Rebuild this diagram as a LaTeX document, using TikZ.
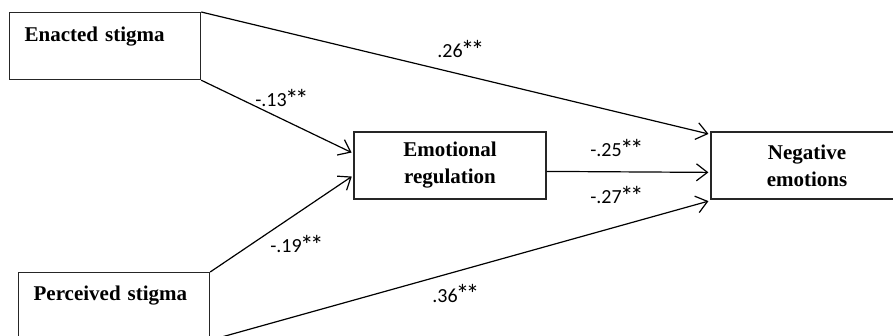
\documentclass[tikz,border=0pt]{standalone}
\usepackage{fontspec}
\usepackage{graphicx}
\setmainfont{Liberation Serif}
\newfontfamily\labelfont{Carlito}
\newcommand\onestar{\makebox[10pt]{\raisebox{-1.5pt}{\scalebox{1.35}{*}}}}
\newcommand\twostars{\onestar\onestar}
\usetikzlibrary{arrows.meta,calc}
\begin{document}
\begin{tikzpicture}[x=1pt,y=-1pt,
  box/.style={draw=black!85, line width=1.2pt, inner sep=0pt, font=\fontsize{21}{27}\selectfont\bfseries},
  sidebox/.style={box, anchor=north west, text width=161pt, inner xsep=15pt, inner ysep=0pt, align=left},
  midbox/.style={box, minimum width=192pt, minimum height=67pt, align=center},
  link/.style={line width=1.2pt, shorten >=2pt, -{Straight Barb[length=11pt,width=17pt,line width=1.2pt]}},
  coef/.style={font=\labelfont\fontsize{20}{24}\selectfont, anchor=base, inner sep=0pt}]
\useasboundingbox (0,0) rectangle (893,336);
\clip (0,0) rectangle (893,336);

\node[sidebox, text height=29pt, text depth=38pt] (enacted) at (9,12) {Enacted stigma};
\node[sidebox, text height=28pt, text depth=39pt] (perceived) at (18,272) {Perceived stigma};
\node[midbox] (emo) at (450,165.5) {Emotional\\regulation};
\node[midbox] (neg) at (807,165.5) {Negative\\emotions};

\coordinate (n1) at ($(neg.north west)+(0,3)$);
\coordinate (n2) at ($(neg.north west)+(0,41)$);
\coordinate (n3) at ($(neg.south west)+(0,1)$);
\coordinate (e1) at ($(emo.north west)+(0,22)$);
\coordinate (e2) at ($(emo.north west)+(0,44)$);
\coordinate (e0) at ($(emo.north east)+(0,40)$);

\draw[link] (enacted.north east) -- (n1);
\draw[link] (enacted.south east) -- (e1);
\draw[link] (perceived.north east) -- (e2);
\draw[link] (e0) -- (n2);
\draw[link] (perceived.south east) -- (n3);

\node[coef] (c1) at (460,58) {.26\twostars};
\node[coef] (c2) at (281,107) {-.13\twostars};
\node[coef] (c3) at (296,253) {-.19\twostars};
\node[coef] (c4) at (616,157) {-.25\twostars};
\node[coef] (c5) at (616,204) {-.27\twostars};
\node[coef] (c6) at (455,302) {.36\twostars};
\end{tikzpicture}
\end{document}
